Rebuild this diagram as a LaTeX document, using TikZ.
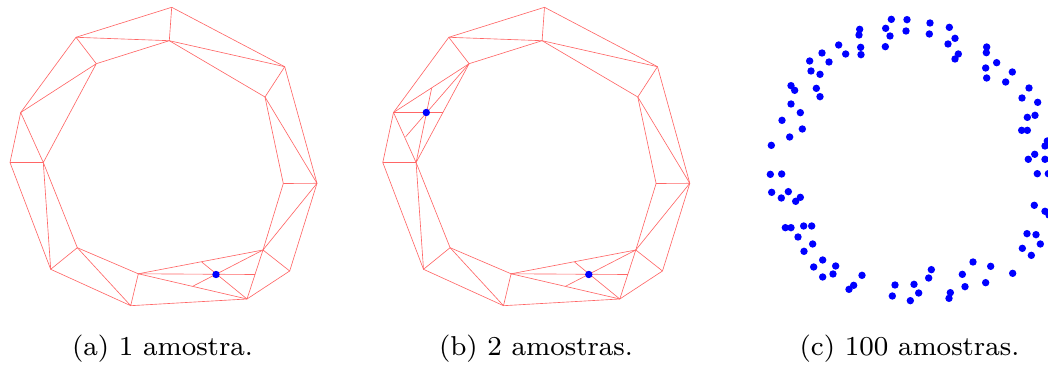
\documentclass[tikz,border=0pt]{standalone}
\tikzset{
  meshline/.style={draw=red!60!white,line width=0.19pt,line join=round},
  sampledot/.style={fill=blue},
  caplabel/.style={font=\fontsize{8.2}{10}\selectfont,anchor=base,inner sep=0pt}
}
% ring of outer/inner vertices shared by panels (a) and (b)
\newcommand{\ringpoints}{%
  \coordinate (o1) at (171.7,7.3);
  \coordinate (o2) at (284.7,66.7);
  \coordinate (o3) at (317,183.3);
  \coordinate (o4) at (289.7,271);
  \coordinate (o5) at (247,299);
  \coordinate (o6) at (130.7,305.7);
  \coordinate (o7) at (50.7,269.3);
  \coordinate (o8) at (10,162.5);
  \coordinate (o9) at (20.7,112.5);
  \coordinate (o10) at (76,37.3);
  \coordinate (i1) at (169.3,40.7);
  \coordinate (i2) at (265,97);
  \coordinate (i3) at (283.3,183.5);
  \coordinate (i4) at (263,250);
  \coordinate (i5) at (138.3,273.8);
  \coordinate (i6) at (77.3,247.7);
  \coordinate (i7) at (43.3,162.5);
  \coordinate (i8) at (96.3,63.7);
  % refinement around the sample in the lower right
  \coordinate (s1) at (216,274.5);
  \coordinate (r1) at (201.7,262);
  \coordinate (r2) at (192.7,286.3);
  \coordinate (r3) at (255,274.5);
  \draw[meshline] (o1)--(o2)--(o3)--(o4)--(o5)--(o6)--(o7)--(o8)--(o9)--(o10)--cycle;
  \draw[meshline] (i2)--(i3)--(i4)--(i5)--(i6)--(i7);
  \draw[meshline] (i8)--(i1)--(i2);
  \draw[meshline] (o1)--(i1) (o10)--(i1) (o2)--(i1) (o2)--(i2) (o3)--(i2) (o3)--(i3) (o3)--(i4);
  \draw[meshline] (o4)--(i4) (o5)--(i4) (o5)--(i5) (o6)--(i5) (o6)--(i6) (o7)--(i6) (o7)--(i7) (o8)--(i7);
  \draw[meshline] (o10)--(i8);
  \draw[meshline] (i5)--(r3) (r1)--(o5) (r2)--(i4);
}
\begin{document}
\begin{tikzpicture}[x=0.3pt,y=-0.3pt]
\useasboundingbox (0,0) rectangle (1048,365);
\clip (0,0) rectangle (1048,365);
% panel (a)
\begin{scope}
  \ringpoints
  \draw[meshline] (o9)--(i8) (o9)--(i7) (i7)--(i8);
  \fill[sampledot] (s1) circle (3.7);
\end{scope}
% panel (b)
\begin{scope}[xshift=111.84pt]
  \ringpoints
  \coordinate (s2) at (53.5,112.5);
  \coordinate (q1) at (70.2,112.5);
  \coordinate (q2) at (58.9,88);
  \coordinate (q3) at (32.9,136.7);
  \draw[meshline] (o9)--(i8) (o9)--(i7) (i7)--(i8);
  \draw[meshline] (o9)--(q1) (q2)--(i7) (q3)--(i8);
  \fill[sampledot] (s1) circle (3.7);
  \fill[sampledot] (s2) circle (3.7);
\end{scope}
% panel (c)
\foreach \x/\y in {409/58,392/85,405/108,391/140,314/88,312/105,317/142,318/164,251/135,272/162,201/159,222/186,164/183,168/213,195/223,108/257,119/271,184/265,195/290,108/312,136/338,81/361,142/387,104/411,49/436}
  \fill[sampledot] ({755+\x/3},{\y/3}) circle (3.7);
\foreach \x/\y in {21/59,18/93,90/69,88/102,148/82,165/115,144/132,175/162,165/177,260/141,259/158,290/188,257/204,260/234,337/216,317/246,387/264,366/294,413/307,405/346,382/352,365/391,382/391}
  \fill[sampledot] ({900+\x/3},{\y/3}) circle (3.7);
\foreach \x/\y in {46/73,80/72,50/127,100/125,79/144,136/142,122/154,91/233,108/233,146/228,170/228,129/261,173/282,147/304,203/330,176/351,242/348,234/372,203/381,321/376,296/406,282/418,420/405,412/438}
  \fill[sampledot] ({755+\x/3},{150+\y/3}) circle (3.7);
\foreach \x/\y in {381/251,408/254,421/282,367/295,394/316,338/370,272/349,257/398,219/336,187/373,195/410,94/359,86/384,42/403,56/429,31/452,151/428,147/445}
  \fill[sampledot] ({900+\x/3},{150+\y/3}) circle (3.7);
\foreach \x/\y in {1047.3/141,1045/146,1034.7/154.3,1028.3/159.3,1045/159.3,1037.3/173.7,1048.3/173.7,1034.3/205.3,1045/211.3,1049/215}
  \fill[sampledot] (\x,\y) circle (3.7);
% captions
\node[caplabel] (capa) at (162.5,355.5) {(a) 1 amostra.};
\node[caplabel] (capb) at (536,355.5) {(b) 2 amostras.};
\node[caplabel] (capc) at (909.5,355.5) {(c) 100 amostras.};
\end{tikzpicture}
\end{document}
